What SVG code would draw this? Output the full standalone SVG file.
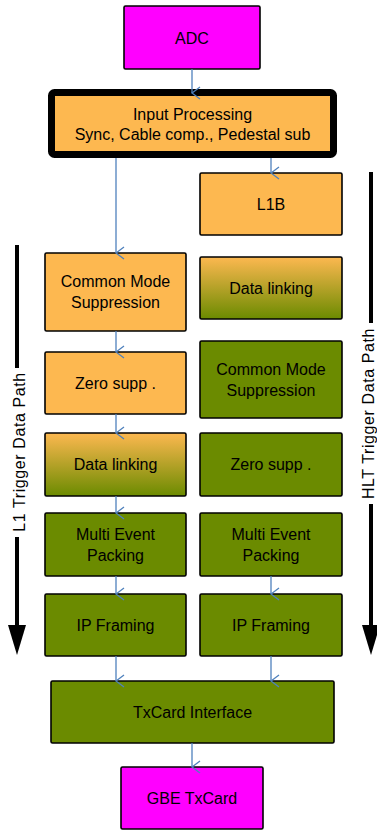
<svg xmlns="http://www.w3.org/2000/svg" width="377" height="830" viewBox="0 0 377 830">
  <defs>
    <linearGradient id="orangeToGreen" x1="0" y1="0" x2="0" y2="1">
      <stop offset="0" stop-color="#FDB850"/>
      <stop offset="1" stop-color="#6B8B00"/>
    </linearGradient>
    <marker id="vhead" markerWidth="14" markerHeight="10" refX="7" refY="9" orient="auto" markerUnits="userSpaceOnUse" viewBox="0 0 14 10">
      <path d="M1,1 L7,9 L13,1" fill="none" stroke="#4F81BD" stroke-width="1.3"/>
    </marker>
    <style>
      .box { stroke: #000; stroke-width: 1.6; }
      .magenta { fill: #FF00FF; }
      .orange { fill: #FDB850; }
      .green { fill: #6B8B00; }
      .grad { fill: url(#orangeToGreen); }
      .lbl { font-family: "Liberation Sans", Arial, sans-serif; font-size: 16px; fill: #000; text-anchor: middle; }
      .side { font-family: "Liberation Sans", Arial, sans-serif; font-size: 16px; fill: #000; text-anchor: middle; letter-spacing: 0.6px; }
      .link { stroke: #4F81BD; stroke-width: 1.3; fill: none; marker-end: url(#vhead); }
      .path { stroke: #000; stroke-width: 4; fill: none; }
    </style>
  </defs>

  <g id="adc">
    <rect class="box magenta" x="124" y="6" width="136" height="63" rx="1.5"/>
    <text class="lbl" x="192" y="43.5">ADC</text>
  </g>

  <g id="input-processing">
    <rect x="51.5" y="92.5" width="282" height="62" rx="3" fill="#FDB850" stroke="#000" stroke-width="7"/>
    <text class="lbl" x="192.5" y="119.5">Input Processing</text>
    <text class="lbl" x="192.5" y="140">Sync, Cable comp., Pedestal sub</text>
  </g>

  <g id="l1b">
    <rect class="box orange" x="200" y="173" width="142" height="62" rx="1.5"/>
    <text class="lbl" x="271" y="209.8">L1B</text>
  </g>

  <g id="cms-l1">
    <rect class="box orange" x="45" y="253" width="141" height="78" rx="1.5"/>
    <text class="lbl" x="115.5" y="287.3">Common Mode</text>
    <text class="lbl" x="115.5" y="308.3">Suppression</text>
  </g>

  <g id="datalink-hlt">
    <rect class="box grad" x="200" y="257" width="142" height="62" rx="1.5"/>
    <text class="lbl" x="271" y="293.8">Data linking</text>
  </g>

  <g id="zero-l1">
    <rect class="box orange" x="45" y="352" width="141" height="62" rx="1.5"/>
    <text class="lbl" x="115.5" y="388.8">Zero supp .</text>
  </g>

  <g id="cms-hlt">
    <rect class="box green" x="200" y="341" width="142" height="77" rx="1.5"/>
    <text class="lbl" x="271" y="374.8">Common Mode</text>
    <text class="lbl" x="271" y="395.8">Suppression</text>
  </g>

  <g id="datalink-l1">
    <rect class="box grad" x="45" y="433" width="141" height="63" rx="1.5"/>
    <text class="lbl" x="115.5" y="470.3">Data linking</text>
  </g>

  <g id="zero-hlt">
    <rect class="box green" x="200" y="433" width="142" height="63" rx="1.5"/>
    <text class="lbl" x="271" y="470.3">Zero supp .</text>
  </g>

  <g id="mep-l1">
    <rect class="box green" x="45" y="513" width="141" height="63" rx="1.5"/>
    <text class="lbl" x="115.5" y="539.8">Multi Event</text>
    <text class="lbl" x="115.5" y="560.8">Packing</text>
  </g>

  <g id="mep-hlt">
    <rect class="box green" x="200" y="513" width="142" height="63" rx="1.5"/>
    <text class="lbl" x="271" y="539.8">Multi Event</text>
    <text class="lbl" x="271" y="560.8">Packing</text>
  </g>

  <g id="ipf-l1">
    <rect class="box green" x="45" y="594" width="141" height="62" rx="1.5"/>
    <text class="lbl" x="115.5" y="630.8">IP Framing</text>
  </g>

  <g id="ipf-hlt">
    <rect class="box green" x="200" y="594" width="142" height="62" rx="1.5"/>
    <text class="lbl" x="271" y="630.8">IP Framing</text>
  </g>

  <g id="txcard-interface">
    <rect class="box green" x="51" y="681" width="283" height="62" rx="1.5"/>
    <text class="lbl" x="192.5" y="717.8">TxCard Interface</text>
  </g>

  <g id="gbe-txcard">
    <rect class="box magenta" x="121" y="767" width="142" height="62" rx="1.5"/>
    <text class="lbl" x="192" y="803.8">GBE TxCard</text>
  </g>

  <g id="connectors">
    <line class="link" x1="192" y1="69" x2="192" y2="93"/>
    <line class="link" x1="116" y1="158" x2="116" y2="253"/>
    <line class="link" x1="271" y1="158" x2="271" y2="173"/>
    <line class="link" x1="116" y1="331" x2="116" y2="352"/>
    <line class="link" x1="116" y1="414" x2="116" y2="433"/>
    <line class="link" x1="116" y1="496" x2="116" y2="513"/>
    <line class="link" x1="116" y1="576" x2="116" y2="594"/>
    <line class="link" x1="271" y1="576" x2="271" y2="594"/>
    <line class="link" x1="116" y1="656" x2="116" y2="681"/>
    <line class="link" x1="271" y1="656" x2="271" y2="681"/>
    <line class="link" x1="192" y1="743" x2="192" y2="767"/>
  </g>

  <g id="l1-trigger-path">
    <line class="path" x1="17" y1="245" x2="17" y2="368"/>
    <line class="path" x1="17" y1="537" x2="17" y2="627"/>
    <polygon points="8,625 26,625 17,655" fill="#000"/>
    <text class="side" transform="translate(25,452) rotate(-90)" x="0" y="0">L1 Trigger Data Path</text>
  </g>

  <g id="hlt-trigger-path">
    <line class="path" x1="371" y1="172" x2="371" y2="323"/>
    <line class="path" x1="371" y1="504" x2="371" y2="627"/>
    <polygon points="362,625 380,625 371,655" fill="#000"/>
    <text class="side" transform="translate(373.5,413.5) rotate(-90)" x="0" y="0">HLT Trigger Data Path</text>
  </g>
</svg>
